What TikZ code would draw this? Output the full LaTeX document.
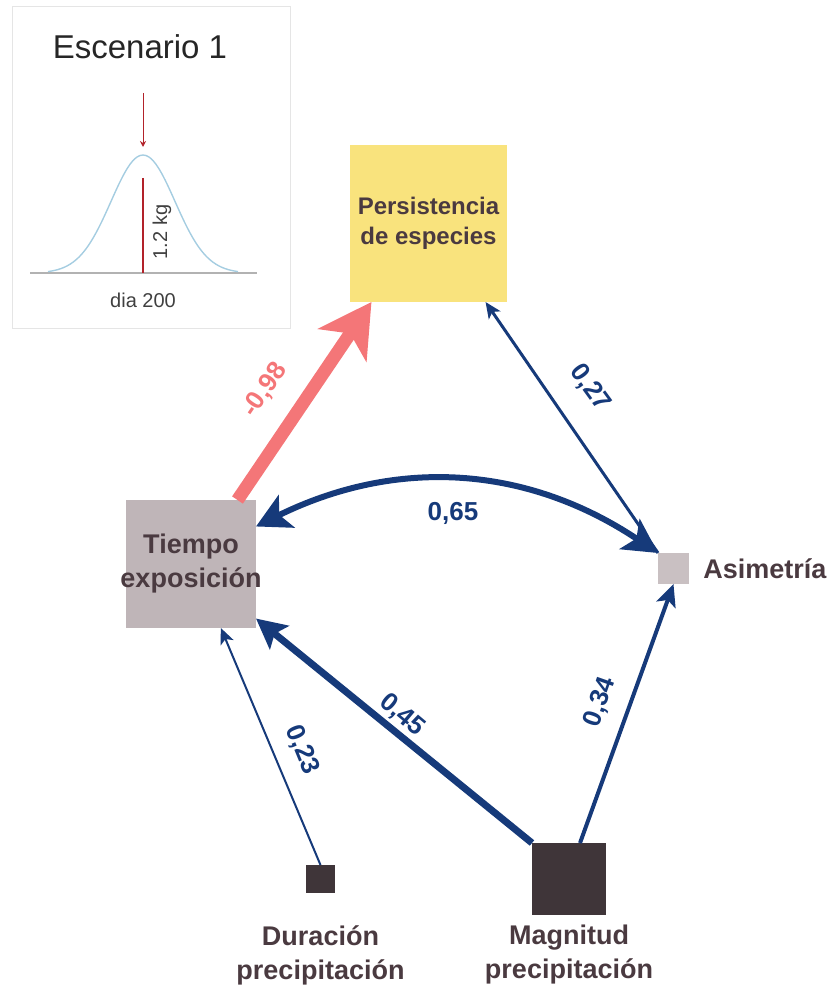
\documentclass[tikz,border=0pt]{standalone}
\usepackage{fontspec}
\setmainfont{Liberation Sans}
\usepackage{tikz}
\usetikzlibrary{arrows.meta, positioning, calc}

\definecolor{pathblue}{RGB}{22,58,122}
\definecolor{negred}{RGB}{244,118,120}
\definecolor{persyellow}{RGB}{249,227,125}
\definecolor{midgray}{RGB}{191,181,184}
\definecolor{palegray}{RGB}{201,192,194}
\definecolor{darkbox}{RGB}{63,53,57}
\definecolor{lbltext}{RGB}{74,58,64}
\definecolor{curveblue}{RGB}{165,205,225}
\definecolor{peakred}{RGB}{178,34,42}

\begin{document}
\begin{tikzpicture}[x=0.5pt, y=-0.5pt,
  pbox/.style={rectangle, inner sep=0pt, outer sep=0pt},
  nlbl/.style={font=\fontsize{13.5}{17}\selectfont\bfseries, text=lbltext, align=center, inner sep=0pt},
  coef/.style={font=\fontsize{13}{15}\selectfont\bfseries, text=pathblue, inner sep=0pt},
  small/.style={font=\fontsize{10}{12}\selectfont, text=black!75, inner sep=0pt}
]
  \useasboundingbox (0,0) rectangle (833,988);

  % inset: scenario
  \draw[black!10] (12,6) rectangle (290,328);
  \node[font=\fontsize{16.5}{18}\selectfont, text=black!85] (scen) at (140,47) {Escenario 1};
  \coordinate (peak) at (143,147);
  \draw[black!30, line width=0.6pt] (30,273) -- (257,273);
  \draw[curveblue, line width=0.7pt]
    plot[smooth, domain=-95:95, samples=61] ({143+\x},{273-118*exp(0-((\x)*(\x))/2048)});
  \draw[peakred, line width=1.2pt] (143,178) -- (143,273);
  \draw[peakred, line width=0.5pt, -{Stealth[length=3pt, width=3pt]}] (143,93) -- (peak);
  \node[small, rotate=90] (kg) at (162,232) {1.2 kg};
  \node[small] (dia) at (143,300) {dia 200};

  % variables
  \node[pbox, fill=persyellow, minimum width=78.5pt, minimum height=78.5pt,
        font=\fontsize{12}{15}\selectfont\bfseries, text=lbltext, align=center]
    (pers) at (428.5,223.5) {Persistencia\\de especies};
  \node[pbox, fill=midgray, minimum width=65pt, minimum height=64pt] (tiempo) at (191,564) {};
  \node[nlbl] (tiempo-lbl) at (tiempo.center) {Tiempo\\exposición};
  \node[pbox, fill=palegray, minimum size=15.5pt] (asim) at (673.5,568.5) {};
  \node[nlbl, right=7pt of asim] (asim-lbl) {Asimetría};
  \node[pbox, fill=darkbox, minimum width=14.5pt, minimum height=14pt] (durac) at (320.5,879) {};
  \node[pbox, fill=darkbox, minimum width=37pt, minimum height=36pt] (magn) at (569,879) {};
  \node[nlbl, line width=0pt] (durac-lbl) at (320.5,955) {Duración\\precipitación};
  \node[nlbl] (magn-lbl) at (569,955) {Magnitud\\precipitación};

  % paths
  \draw[line width=6.5pt, negred, -{Stealth[length=26pt, width=29pt, inset=7pt]}]
    (tiempo.54) -- (pers.234);
  \draw[line width=1.5pt, pathblue, -{Stealth[length=8pt, width=7pt, inset=2pt]}]
    (asim.north west) -- (pers.306);
  \draw[line width=3pt, pathblue,
        {Stealth[length=17pt, width=18pt, inset=4pt]}-{Stealth[length=17pt, width=18pt, inset=4pt]}]
    (tiempo.30) to[bend left=30] (asim.north west);
  \draw[line width=3.5pt, pathblue, -{Stealth[length=15pt, width=15pt, inset=3pt]}]
    (magn.north west) -- (tiempo.-40);
  \draw[line width=1pt, pathblue, -{Stealth[length=8pt, width=7pt, inset=2pt]}]
    (durac.north) -- (tiempo.-65);
  \draw[line width=2pt, pathblue, -{Stealth[length=11pt, width=10pt, inset=2.5pt]}]
    (magn.73) -- (asim.south);

  % coefficients
  \node[coef, text=negred, rotate=55.5] (c98) at (265,390) {-0,98};
  \node[coef, rotate=-54] (c27) at (590,388) {0,27};
  \node[coef] (c65) at (453,513) {0,65};
  \node[coef, rotate=-40] (c45) at (402,715) {0,45};
  \node[coef, rotate=-67.6] (c23) at (302,750) {0,23};
  \node[coef, rotate=70.6] (c34) at (600,702) {0,34};
\end{tikzpicture}
\end{document}
